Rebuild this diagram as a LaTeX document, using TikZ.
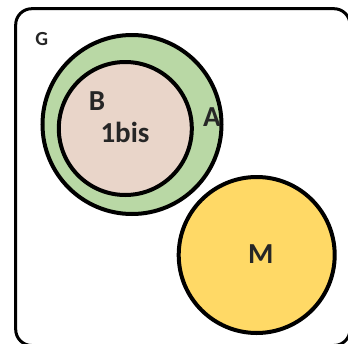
\documentclass[tikz,border=0pt]{standalone}
\usepackage{fontspec}
\setmainfont{Carlito}
\definecolor{ringgreen}{HTML}{B9D8A5}
\definecolor{innerpink}{HTML}{E9D5C9}
\definecolor{setyellow}{HTML}{FFD966}
\definecolor{labelgray}{HTML}{262626}

\begin{document}
\begin{tikzpicture}[x=1pt,y=-1pt,set/.style={circle,draw=black,line width=4pt,inner sep=0pt},
    lbl/.style={text=labelgray,font=\bfseries\fontsize{29}{29}\selectfont,inner sep=0pt}]
        \useasboundingbox (0,0) rectangle (348,343);
        \draw[line width=3pt,rounded corners=16pt] (15.7,8.7) rectangle (350,345.5);
        \node[set,fill=ringgreen,minimum size=179pt] (A) at (132,124.5) {};
        \node[set,fill=innerpink,minimum size=133pt] (B) at (125.3,128.5) {};
        \node[set,fill=setyellow,minimum size=156pt] (M) at (256.7,255) {};
        \node[lbl,font=\bfseries\fontsize{20}{20}\selectfont] (labelG) at (41.7,38.8) {G};
        \node[lbl] (labelB) at (97,101.5) {B};
        \node[lbl] (label1bis) at (125,132) {1bis};
        \node[lbl] (labelA) at (212,117) {A};
        \node[lbl] (labelM) at (260.8,254) {M};
      \end{tikzpicture}
\end{document}
